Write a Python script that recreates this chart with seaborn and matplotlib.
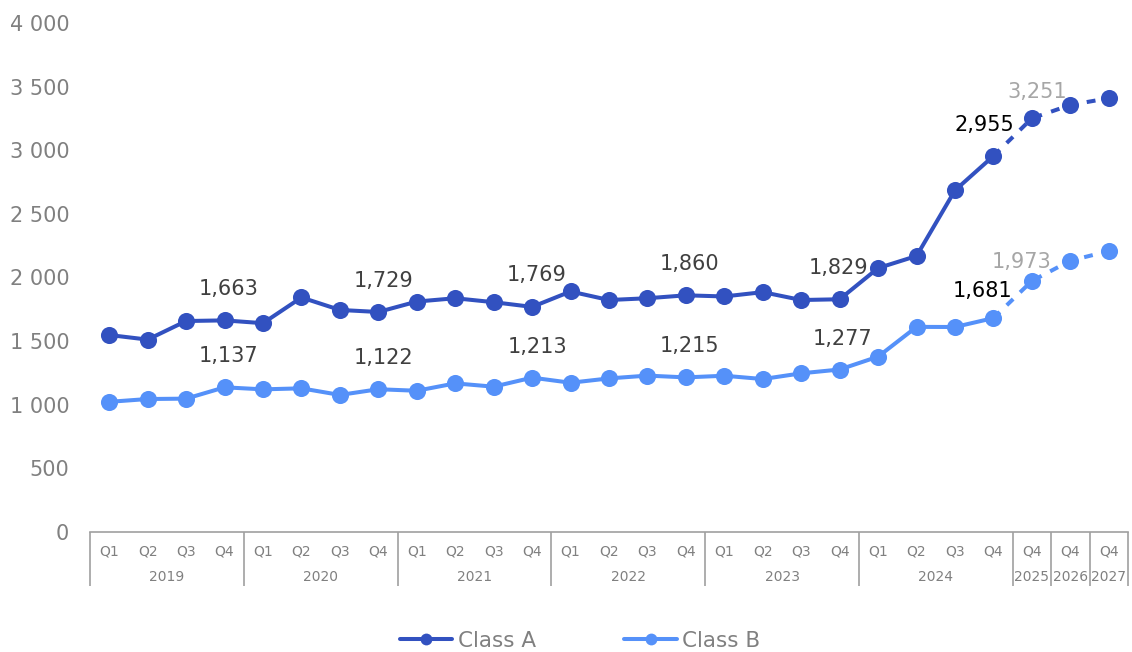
import matplotlib
matplotlib.use("Agg")
import matplotlib.pyplot as plt
import matplotlib.transforms as mtransforms
from matplotlib.ticker import FuncFormatter, FixedLocator
from matplotlib.lines import Line2D
import seaborn as sns
import pandas as pd
import numpy as np

# ---------------- data ----------------
quarters = ["Q1", "Q2", "Q3", "Q4"] * 6 + ["Q4", "Q4", "Q4"]
years = ["2019", "2020", "2021", "2022", "2023", "2024", "2025", "2026", "2027"]
year_sizes = [4, 4, 4, 4, 4, 4, 1, 1, 1]
class_a = [1548, 1512, 1658, 1663, 1641, 1843, 1745, 1729, 1811, 1837, 1806, 1769,
           1890, 1823, 1837, 1860, 1851, 1885, 1823, 1829, 2074, 2169, 2685, 2955,
           3251, 3356, 3409]
class_b = [1023, 1045, 1048, 1137, 1121, 1129, 1077, 1122, 1110, 1168, 1142, 1213,
           1173, 1207, 1229, 1215, 1228, 1202, 1247, 1277, 1378, 1612, 1611, 1681,
           1973, 2132, 2208]
series_names = ["Class A", "Class B"]
actual_count = 24  # last actual point index + 1 (2024 Q4); rest are projections
labeled_idx = [3, 7, 11, 15, 19, 23, 24]

# ---------------- style ----------------
COL_A = "#3251c0"
COL_B = "#5591f9"
GRAY = "#808080"
LBL = "#404040"

sns.set_theme(style="white")
plt.rcParams["font.family"] = ["DejaVu Sans"]

fig = plt.figure(figsize=(11.32, 6.52), dpi=100)
ax = fig.add_axes([90 / 1132, 120 / 652, 1038 / 1132, 509 / 652])

n = len(class_a)
idx = np.arange(n)
rows = []
for name, vals in zip(series_names, [class_a, class_b]):
    for i, v in enumerate(vals):
        rows.append({"i": i, "value": v, "series": name})
df = pd.DataFrame(rows)
palette = {"Class A": COL_A, "Class B": COL_B}

lw = 2.9
ms = 12.3
# solid actual part
act = df[df["i"] < actual_count]
sns.lineplot(data=act, x="i", y="value", hue="series", palette=palette,
             marker="o", markersize=ms, markeredgewidth=0, linewidth=lw,
             ax=ax, legend=False, zorder=3)
# dashed projection part (starting from last actual point)
proj = df[df["i"] >= actual_count - 1]
for name in series_names:
    sub = proj[proj["series"] == name]
    sns.lineplot(data=sub, x="i", y="value", color=palette[name], linewidth=lw,
                 ax=ax, legend=False, zorder=2, linestyle=(0, (2.2, 2.4)))
    sub2 = sub[sub["i"] >= actual_count]
    sns.scatterplot(data=sub2, x="i", y="value", color=palette[name], s=ms**2,
                    linewidth=0, ax=ax, legend=False, zorder=4)

# ---------------- axes ----------------
ax.set_xlim(-0.5, n - 0.5)
ax.set_ylim(0, 4000)
ax.set_yticks(np.arange(0, 4001, 500))
ax.yaxis.set_major_formatter(FuncFormatter(lambda v, p: f"{int(v):,}".replace(",", " ")))
ax.tick_params(axis="y", length=0, labelsize=15, labelcolor=GRAY, pad=15)

ax.set_xticks(idx)
ax.set_xticklabels(quarters)
ax.tick_params(axis="x", which="major", length=0, labelsize=10, labelcolor=GRAY, pad=9)
bounds = np.concatenate([[0], np.cumsum(year_sizes)]) - 0.5
ax.xaxis.set_minor_locator(FixedLocator(bounds))
ax.tick_params(axis="x", which="minor", length=39, width=1.2, color="#a0a0a0",
               direction="out", bottom=True)
ax.set_xlabel("")
ax.set_ylabel("")
for s in ["top", "right", "left"]:
    ax.spines[s].set_visible(False)
ax.spines["bottom"].set_color("#a0a0a0")
ax.spines["bottom"].set_linewidth(1.2)
ax.grid(False)

trans = mtransforms.blended_transform_factory(ax.transData, ax.transAxes)
for y0, sz, yr in zip(bounds[:-1], year_sizes, years):
    ax.text(y0 + sz / 2, -45 / 509, yr, transform=trans, ha="center", va="center",
            fontsize=10, color=GRAY)

# ---------------- data labels ----------------
lab_style_a = {3: (4, 31, LBL), 7: (5, 31, LBL), 11: (5, 32, LBL), 15: (4, 31, LBL),
               19: (-1, 31, LBL), 23: (-9, 31, "black"), 24: (5, 26, "#a6a6a6")}
lab_style_b = {3: (4, 31, LBL), 7: (5, 31, LBL), 11: (5, 31, LBL), 15: (4, 31, LBL),
               19: (3, 31, LBL), 23: (-11, 27, "black"), 24: (-10, 19, "#a6a6a6")}
for vals, st in [(class_a, lab_style_a), (class_b, lab_style_b)]:
    for i in labeled_idx:
        dx, dy, c = st[i]
        ax.annotate(f"{vals[i]:,}", (i, vals[i]), xytext=(dx, dy),
                    textcoords="offset pixels", ha="center", va="center",
                    fontsize=15, color=c, zorder=6)

# ---------------- legend ----------------
handles = [Line2D([], [], color=palette[nm], lw=lw, marker="o", markersize=8.5,
                  markeredgewidth=0) for nm in series_names]
leg = fig.legend(handles, series_names, loc="center", bbox_to_anchor=(580 / 1132, 1 - 641 / 652),
                 ncol=2, frameon=False, fontsize=15.5, handlelength=2.45,
                 handletextpad=0.25, columnspacing=4.1)
for t in leg.get_texts():
    t.set_color(GRAY)

fig.savefig("out.png", dpi=100)
